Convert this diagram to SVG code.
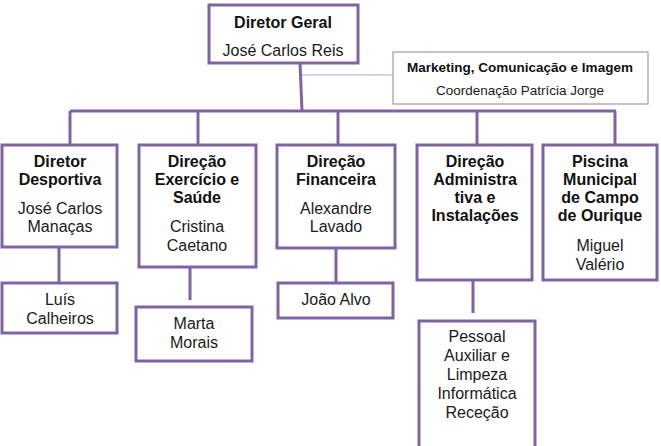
<svg xmlns="http://www.w3.org/2000/svg" width="661" height="446" viewBox="0 0 661 446">
<style>
.box{fill:#fff;stroke:#8064a2;stroke-width:3}
.thin{fill:#fff;stroke:#a593c2;stroke-width:1.2}
.c{fill:none;stroke:#8064a2;stroke-width:3}
.ct{fill:none;stroke:#b3a5cc;stroke-width:1.2}
text{font-family:"Liberation Sans",Arial,sans-serif;text-anchor:middle;fill:#1a1a1a;font-size:16px}
.b{font-weight:bold;fill:#111}
.s{font-size:13.5px}
</style>
<rect width="661" height="446" fill="#fff"/>
<g id="connectors">
<path class="ct" d="M300 75H393"/>
<path class="c" d="M300 63L302 111M70 111H616M70 111V145M198 111V145M338 111V145M477 111V145M615 111V145"/>
<path class="c" d="M59 247V282M190 267V300M336 248V282M473 280V313"/>
</g>
<g id="diretor-geral">
<rect class="box" x="209" y="5" width="149" height="58"/>
<text class="b" x="283" y="28">Diretor Geral</text>
<text x="283" y="56">José Carlos Reis</text>
</g>
<g id="marketing">
<rect class="thin" x="393" y="52" width="255" height="52"/>
<text class="b s" x="520" y="72">Marketing, Comunicação e Imagem</text>
<text class="s" x="520" y="95">Coordenação Patrícia Jorge</text>
</g>
<g id="desportiva">
<rect class="box" x="2" y="145" width="115" height="102"/>
<text class="b" x="60" y="167">Diretor</text>
<text class="b" x="60" y="185">Desportiva</text>
<text x="60" y="214">José Carlos</text>
<text x="60" y="232">Manaças</text>
</g>
<g id="exercicio">
<rect class="box" x="139" y="145" width="117" height="122"/>
<text class="b" x="197" y="167">Direção</text>
<text class="b" x="197" y="185">Exercício e</text>
<text class="b" x="197" y="203">Saúde</text>
<text x="197" y="232">Cristina</text>
<text x="197" y="251">Caetano</text>
</g>
<g id="financeira">
<rect class="box" x="277" y="145" width="118" height="103"/>
<text class="b" x="336" y="167">Direção</text>
<text class="b" x="336" y="185">Financeira</text>
<text x="336" y="214">Alexandre</text>
<text x="336" y="232">Lavado</text>
</g>
<g id="administrativa">
<rect class="box" x="417" y="145" width="115" height="135"/>
<text class="b" x="475" y="167">Direção</text>
<text class="b" x="475" y="185">Administra</text>
<text class="b" x="475" y="203">tiva e</text>
<text class="b" x="475" y="221">Instalações</text>
</g>
<g id="piscina">
<rect class="box" x="543" y="145" width="114" height="135"/>
<text class="b" x="600" y="167">Piscina</text>
<text class="b" x="600" y="185">Municipal</text>
<text class="b" x="600" y="203">de Campo</text>
<text class="b" x="600" y="221">de Ourique</text>
<text x="600" y="251">Miguel</text>
<text x="600" y="270">Valério</text>
</g>
<g id="luis">
<rect class="box" x="2" y="283" width="115" height="50"/>
<text x="60" y="305">Luís</text>
<text x="60" y="324">Calheiros</text>
</g>
<g id="marta">
<rect class="box" x="136" y="307" width="116" height="54"/>
<text x="194" y="329">Marta</text>
<text x="194" y="348">Morais</text>
</g>
<g id="joao">
<rect class="box" x="278" y="283" width="115" height="35"/>
<text x="336" y="305">João Alvo</text>
</g>
<g id="pessoal">
<rect class="box" x="419" y="321" width="116" height="135"/>
<text x="477" y="342">Pessoal</text>
<text x="477" y="361">Auxiliar e</text>
<text x="477" y="380">Limpeza</text>
<text x="477" y="399">Informática</text>
<text x="477" y="418">Receção</text>
</g>
</svg>
